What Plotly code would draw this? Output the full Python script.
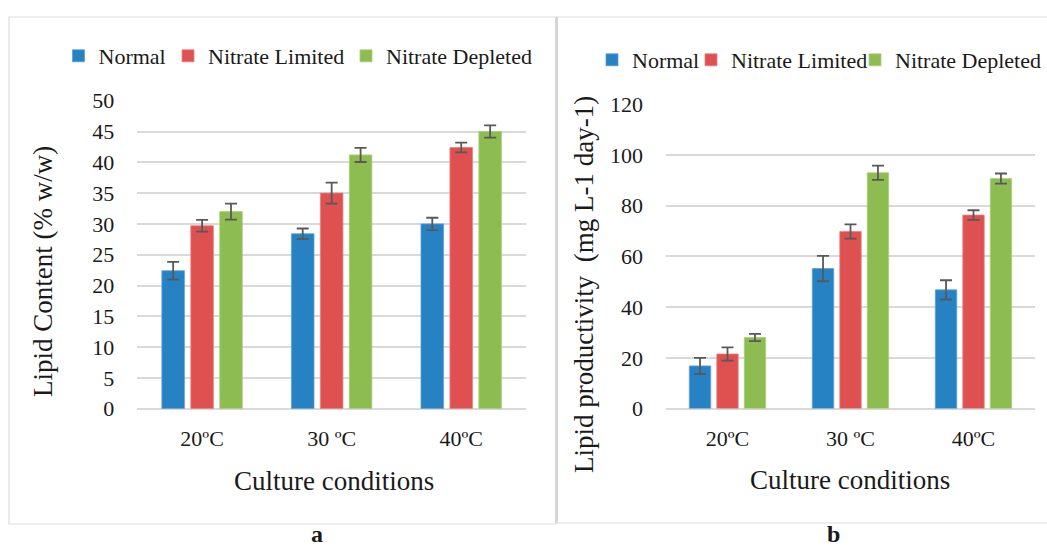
import plotly.graph_objects as go

# ---------------- data ----------------
categories = ["20ºC", "30 ºC", "40ºC"]
series_names = ["Normal", "Nitrate Limited", "Nitrate Depleted"]

lipid_content_normal = [22.4, 28.4, 30.0]
lipid_content_limited = [29.7, 35.0, 42.4]
lipid_content_depleted = [32.0, 41.2, 45.0]
lipid_content_err_normal = [1.45, 0.85, 1.0]
lipid_content_err_limited = [0.95, 1.7, 0.8]
lipid_content_err_depleted = [1.3, 1.15, 1.0]

productivity_normal = [16.8, 55.2, 46.8]
productivity_limited = [21.5, 69.8, 76.3]
productivity_depleted = [28.0, 93.0, 90.7]
productivity_err_normal = [3.2, 5.0, 3.8]
productivity_err_limited = [2.6, 2.8, 1.9]
productivity_err_depleted = [1.4, 2.8, 2.0]

yticks_a = [0, 5, 10, 15, 20, 25, 30, 35, 40, 45, 50]
yticks_b = [0, 20, 40, 60, 80, 100, 120]

# ---------------- style ----------------
W, H = 1047, 549
FONT = "Liberation Serif"
TXT = "#1a1a1a"
colors = ["#2682C3", "#DF5150", "#8DBD50"]
edge_colors = ["#5E9FD3", "#E98080", "#ABCF7E"]
ERR_COLOR = "#595959"
GRID = "#D9D9D9"


def px(x):
    return x / W


def py(y):
    return 1 - y / H


fig = go.Figure()

panel_a = [
    (lipid_content_normal, lipid_content_err_normal),
    (lipid_content_limited, lipid_content_err_limited),
    (lipid_content_depleted, lipid_content_err_depleted),
]
panel_b = [
    (productivity_normal, productivity_err_normal),
    (productivity_limited, productivity_err_limited),
    (productivity_depleted, productivity_err_depleted),
]

legend_ids_a = ["legend", "legend2", "legend3"]
legend_ids_b = ["legend4", "legend5", "legend6"]

for name, col, ecol, lid, (vals, errs) in zip(series_names, colors, edge_colors, legend_ids_a, panel_a):
    fig.add_trace(go.Bar(
        x=categories, y=vals, name=name,
        marker=dict(color=col, line=dict(width=0.8, color=ecol)),
        error_y=dict(type="data", array=errs, color=ERR_COLOR, thickness=1.8, width=6),
        xaxis="x", yaxis="y", legend=lid,
    ))

for name, col, ecol, lid, (vals, errs) in zip(series_names, colors, edge_colors, legend_ids_b, panel_b):
    fig.add_trace(go.Bar(
        x=categories, y=vals, name=name,
        marker=dict(color=col, line=dict(width=0.8, color=ecol)),
        error_y=dict(type="data", array=errs, color=ERR_COLOR, thickness=1.8, width=6),
        xaxis="x2", yaxis="y2", legend=lid,
    ))

xaxis_common = dict(
    type="category", range=[-0.5, 2.5], showgrid=False, zeroline=False, showline=False,
    ticks="", tickfont=dict(family=FONT, size=22, color=TXT), ticklabelstandoff=14,
    fixedrange=True, automargin=False,
)
yaxis_common = dict(
    showgrid=True, gridcolor=GRID, gridwidth=1.5, zeroline=True, zerolinecolor=GRID,
    zerolinewidth=1.5, showline=False, ticks="",
    tickfont=dict(family=FONT, size=22, color=TXT), ticklabelstandoff=22, fixedrange=True,
    automargin=False,
)

legend_common = dict(
    orientation="h", xanchor="left", yanchor="middle", bgcolor="rgba(0,0,0,0)",
    xref="container", yref="container",
    font=dict(family=FONT, size=22, color=TXT), itemclick=False, itemdoubleclick=False,
)

# legend entry positions (left edge of each entry, px) and row centre
legend_x_a = [58.5, 168, 346]
legend_x_b = [592, 691, 855]
legend_y_a, legend_y_b = 56, 60

legends = {}
for lid, lx in zip(legend_ids_a, legend_x_a):
    legends[lid] = dict(x=px(lx), y=py(legend_y_a), **legend_common)
for lid, lx in zip(legend_ids_b, legend_x_b):
    legends[lid] = dict(x=px(lx), y=py(legend_y_b), **legend_common)

fig.update_layout(
    template="none",
    width=W, height=H, margin=dict(l=0, r=0, t=0, b=0, autoexpand=False),
    paper_bgcolor="white", plot_bgcolor="white",
    barmode="group", bargap=0.33, bargroupgap=0.22,
    showlegend=True,
    xaxis=dict(domain=[px(137.3), px(526)], anchor="y", **xaxis_common),
    yaxis=dict(domain=[py(408.7), py(100.7)], anchor="x", range=[0, 50],
               tickvals=yticks_a, **yaxis_common),
    xaxis2=dict(domain=[px(666), px(1035)], anchor="y2", **xaxis_common),
    yaxis2=dict(domain=[py(408.5), py(104.3)], anchor="x2", range=[0, 120],
                tickvals=yticks_b, **yaxis_common),
    **legends,
)

# panel frames
line_col = "#DDDDDD"
fig.add_shape(type="rect", xref="paper", yref="paper", x0=px(9), x1=px(556), y0=py(524), y1=py(17),
              line=dict(color=line_col, width=1.2), layer="below")
fig.add_shape(type="line", xref="paper", yref="paper", x0=px(556.5), x1=px(556.5), y0=py(523), y1=py(17),
              line=dict(color="#D6D6D6", width=3), layer="below")
fig.add_shape(type="line", xref="paper", yref="paper", x0=px(556), x1=1, y0=py(17), y1=py(17),
              line=dict(color=line_col, width=1.2), layer="below")
fig.add_shape(type="line", xref="paper", yref="paper", x0=px(556), x1=1, y0=py(523), y1=py(523),
              line=dict(color=line_col, width=1.2), layer="below")

ann_font = dict(family=FONT, size=27, color=TXT)
annotations = [
    dict(text="Lipid Content (% w/w)", x=px(43), y=py(272), textangle=-90, font=ann_font),
    dict(text="Lipid productivity  (mg L-1 day-1)", x=px(584), y=py(285), textangle=-90, font=ann_font),
    dict(text="Culture conditions", x=px(334), y=py(481), font=ann_font),
    dict(text="Culture conditions", x=px(850), y=py(480), font=ann_font),
    dict(text="<b>a</b>", x=px(317), y=py(534), font=dict(family=FONT, size=24, color=TXT)),
]
for a in annotations:
    fig.add_annotation(xref="paper", yref="paper", showarrow=False, xanchor="center",
                       yanchor="middle", **a)
fig.add_annotation(text="<b>b</b>", xref="paper", yref="paper", x=px(833), y=0,
                   xanchor="center", yanchor="bottom", showarrow=False,
                   font=dict(family=FONT, size=24, color=TXT))

fig.write_html("out.html", config={"displayModeBar": False})
